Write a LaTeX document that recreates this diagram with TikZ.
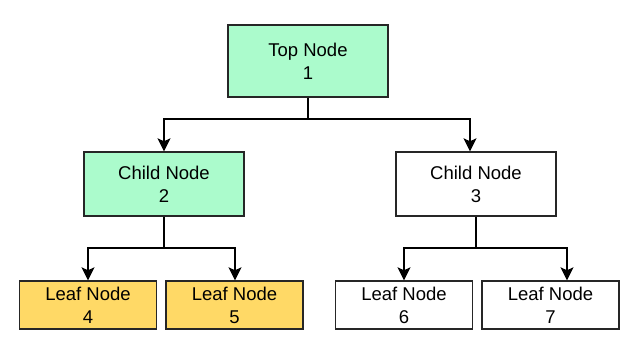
\documentclass[tikz,border=0pt]{standalone}
\usepackage{fontspec}
\setmainfont{Liberation Sans}
\usepackage{xcolor}
\usetikzlibrary{arrows.meta,positioning,calc}

\definecolor{mint}{HTML}{ABFBCC}
\definecolor{gold}{HTML}{FFD966}
\definecolor{edge}{HTML}{262626}

\begin{document}
\begin{tikzpicture}[
  x=1pt, y=-1pt,
  box/.style={draw=edge, line width=1.4pt, minimum width=160pt, minimum height=64pt,
    font=\fontsize{18.5}{23}\selectfont, align=center, inner sep=0pt},
  upper/.style={box, fill=mint},
  lower/.style={box, fill=white},
  leaf/.style={box, minimum width=137pt, minimum height=48pt},
  leafup/.style={leaf, fill=gold},
  leaflow/.style={leaf, fill=white},
  link/.style={line width=1.2pt, draw=black},
  arr/.style={link, -{Stealth[length=13pt, width=13pt, inset=3pt]}},
]
\useasboundingbox (0,0) rectangle (635,353);

% Top
\node[upper, minimum height=72pt] (top) at (308,61) {Top Node\\1};

% Children
\node[upper] (child2) at (164,184) {Child Node\\2};
\node[lower] (child3) at (476,184) {Child Node\\3};

% Leaves
\node[leafup] (leaf4) at (88,305) {Leaf Node\\4};
\node[leafup] (leaf5) at (234.5,305) {Leaf Node\\5};
\node[leaflow] (leaf6) at (404,305) {Leaf Node\\6};
\node[leaflow] (leaf7) at (550.5,305) {Leaf Node\\7};

% Junctions
\coordinate (j1) at (308,119);
\coordinate (j2) at (164,248);
\coordinate (j3) at (476,248);

% Arrows
\draw[link] (top.south) -- (j1);
\draw[arr] (j1) -| (child2.north);
\draw[arr] (j1) -| ([xshift=-6pt]child3.north);
\draw[link] (child2.south) -- (j2);
\draw[arr] (j2) -| (leaf4.north);
\draw[arr] (j2) -| ([xshift=0.5pt]leaf5.north);
\draw[link] (child3.south) -- (j3);
\draw[arr] (j3) -| (leaf6.north);
\draw[arr] (j3) -| ([xshift=16.5pt]leaf7.north);

\end{tikzpicture}
\end{document}
